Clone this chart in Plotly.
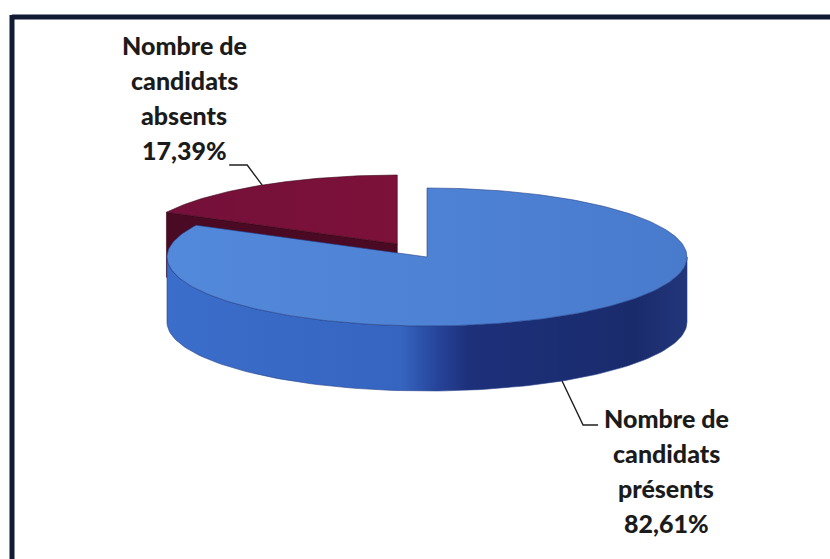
import numpy as np
import plotly.graph_objects as go

# Data
categories = ["Nombre de candidats présents", "Nombre de candidats absents"]
shares = [82.61, 17.39]
label_words = [["Nombre de", "candidats", "présents"], ["Nombre de", "candidats", "absents"]]
exploded = [False, True]

# Styling per slice
top_scales = [
    [[0, "#5389da"], [0.5, "#4e82d4"], [1, "#497bcd"]],
    [[0, "#74103a"], [1, "#7c1139"]],
]
side_scales = [
    [[0, "#3b6dca"], [0.45, "#3565c0"], [0.52, "#27449a"], [0.58, "#1d307a"], [0.9, "#1a2b6c"], [1, "#22367a"]],
    [[0, "#4e0b26"], [1, "#5a0c2c"]],
]
face_colors = ["#2c4c9c", "#4a0a24"]
edge_colors = ["#27418a", "#3a0618"]

# Pie geometry (plot units = pixels)
CX, CY = 427.0, 257.0
RX, RY = 260.0, 69.0
DEPTH = 65.0
EXPLODE = 0.22
W, H = 830, 559

fig = go.Figure()


def rim(theta_deg, cx, cy, dz=0.0):
    t = np.radians(theta_deg)
    return cx + RX * np.cos(t), cy - RY * np.sin(t) + dz


def add_poly(xs, ys, scale=None, color=None, line="rgba(0,0,0,0)", lw=0.0):
    kw = dict(x=list(xs) + [xs[0]], y=list(ys) + [ys[0]], mode="lines", fill="toself",
              line=dict(color=line, width=lw), hoverinfo="skip", showlegend=False)
    if scale is not None:
        kw["fillgradient"] = dict(type="horizontal", colorscale=scale)
        kw["fillcolor"] = scale[0][1]
    else:
        kw["fillcolor"] = color
    fig.add_trace(go.Scatter(**kw))


# slice angle ranges: start at 12 o'clock, clockwise
total = sum(shares)
bounds = []
start = 90.0
for v in shares:
    sweep = 360.0 * v / total
    bounds.append((start - sweep, start))
    start -= sweep

centers = []
for (lo, hi), ex in zip(bounds, exploded):
    mid = np.radians((lo + hi) / 2)
    if ex:
        centers.append((CX + RX * EXPLODE * np.cos(mid), CY - RY * EXPLODE * np.sin(mid)))
    else:
        centers.append((CX, CY))

# draw back slices first (exploded one sits behind)
order = sorted(range(len(shares)), key=lambda i: centers[i][1])
for i in order:
    lo, hi = bounds[i]
    cx, cy = centers[i]
    # radial cut faces facing the viewer
    for th, vis in ((hi, np.cos(np.radians(hi)) < -1e-6), (lo, np.cos(np.radians(lo)) > 1e-6)):
        if vis:
            rx, ry = rim(th, cx, cy)
            add_poly([cx, rx, rx, cx], [cy, ry, ry + DEPTH, cy + DEPTH], color=face_colors[i],
                     line=edge_colors[i], lw=0.6)
    # outer side on the front half
    for k in (-360, 0, 360):
        a0, a1 = max(lo, -180 + k), min(hi, 0 + k)
        if a1 > a0:
            th = np.linspace(a0, a1, 120)
            tx, ty = rim(th, cx, cy)
            bx, by = rim(th[::-1], cx, cy, DEPTH)
            add_poly(np.concatenate([tx, bx]), np.concatenate([ty, by]), scale=side_scales[i],
                     line=edge_colors[i], lw=0.6)
    # top face
    th = np.linspace(lo, hi, 240)
    tx, ty = rim(th, cx, cy)
    add_poly(np.concatenate([[cx], tx]), np.concatenate([[cy], ty]), scale=top_scales[i],
             line=edge_colors[i], lw=0.6)

# data labels with leader lines
FONT = dict(family="Lato", size=25, color="#1b1b1b", weight=900)
LINE_GAP = 35.0
label_pos = [(666, 418), (184, 45)]          # centre of the first text line
for i in range(len(shares)):
    lo, hi = bounds[i]
    cx, cy = centers[i]
    mid = (lo + hi) / 2
    pct = f"{shares[i]:.2f}".replace(".", ",") + "%"
    lines = label_words[i] + [pct]
    lx, ly = label_pos[i]
    for j, txt in enumerate(lines):
        fig.add_annotation(x=lx, y=ly + j * LINE_GAP, text=txt, showarrow=False,
                           xanchor="center", yanchor="middle", font=FONT)
    if np.sin(np.radians(mid)) < 0:
        ax, ay = rim(mid, cx, cy, DEPTH)
        ex, ey = ax + 21, ay + 44
        hx = ex + 15
    else:
        ax, ay = rim(mid, cx, cy)
        ex, ey = ax - 15, ay - 20
        hx = ex - 18
    fig.add_trace(go.Scatter(x=[ax, ex, hx], y=[ay, ey, ey], mode="lines",
                             line=dict(color="#1f1f1f", width=1.4), hoverinfo="skip", showlegend=False))

# chart frame: top and left edges, open on the right and bottom
fig.add_shape(type="rect", xref="x", yref="y", x0=812, x1=W + 5, y0=20, y1=H + 5,
              fillcolor="white", line=dict(width=0), layer="above")
fig.add_shape(type="line", xref="x", yref="y", x0=12, x1=W + 5, y0=17, y1=17,
              line=dict(color="#111b34", width=5), layer="above")
fig.add_shape(type="line", xref="x", yref="y", x0=12, x1=12, y0=15, y1=H + 5,
              line=dict(color="#111b34", width=5), layer="above")

fig.update_layout(
    width=W, height=H, margin=dict(l=0, r=0, t=0, b=0),
    paper_bgcolor="white", plot_bgcolor="white",
    xaxis=dict(range=[0, W], visible=False, fixedrange=True),
    yaxis=dict(range=[H, 0], visible=False, fixedrange=True),
)

# keep the page exactly the size of the figure
page_css = ("document.documentElement.style.overflow='hidden';"
            "document.body.style.margin='0';document.body.style.overflow='hidden';")
fig.write_html("out.html", config=dict(displayModeBar=False), post_script=page_css)
